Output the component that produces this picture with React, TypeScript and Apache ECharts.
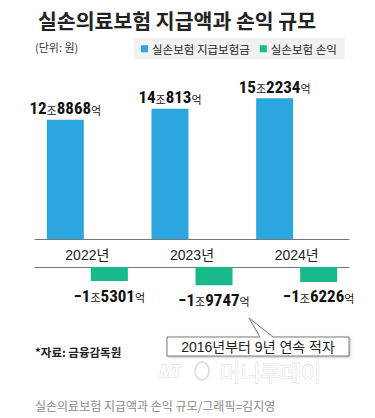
import React, { useEffect, useRef } from "react";
import * as echarts from "echarts";

const categories = ["2022년", "2023년", "2024년"];
const payouts = [12.8868, 14.0813, 15.2234]; // 조원
const profits = [-1.5301, -1.9747, -1.6226]; // 조원
const seriesNames = ["실손보험 지급보험금", "실손보험 손익"];

const BLUE = "#2ba6de";
const GREEN = "#18b98b";
const KR = "'Noto Sans CJK KR', 'Noto Sans', sans-serif";
const MIX = "'Liberation Sans', 'Noto Sans CJK KR', sans-serif";
const NUM = "'Liberation Sans Narrow', 'Roboto Condensed', 'Liberation Sans', 'Noto Sans CJK KR', sans-serif";

function fmt(p: any) {
  const val = Number(p.value);
  const v = Math.abs(val);
  const jo = Math.floor(v);
  const eok = Math.round((v - jo) * 10000);
  const sign = val < 0 ? "−" : "";
  return `{n|${sign}${jo}}{u|조}{n|${eok}}{u|억}`;
}

const rich = {
  n: { fontFamily: NUM, fontSize: 17, fontWeight: "bold", color: "#111" },
  u: { fontFamily: KR, fontSize: 11, color: "#111", padding: [3, 0, 0, 0] },
};

export default function App() {
  const ref = useRef<HTMLDivElement>(null);
  useEffect(() => {
    if (!ref.current) return;
    const chart = echarts.init(ref.current, null, { renderer: "svg" });
    const empty = categories.map(() => "-");
    chart.setOption({
      animation: false,
      backgroundColor: "#fff",
      title: {
        text: "실손의료보험 지급액과 손익 규모",
        left: 33,
        top: 5,
        textStyle: { fontFamily: KR, fontSize: 20.5, fontWeight: "bold", color: "#222" },
      },
      legend: {
        data: seriesNames,
        left: 134,
        top: 38,
        backgroundColor: "#f1f1f1",
        padding: [5, 8, 5, 7],
        itemWidth: 7,
        itemHeight: 7,
        itemGap: 10,
        icon: "rect",
        textStyle: { fontFamily: KR, fontSize: 11.5, color: "#222", padding: [0, 0, 0, -1] },
      },
      grid: [
        { left: 35, right: 26, top: 91, height: 148 },
        { left: 35, right: 26, top: 267, height: 18.46 },
      ],
      xAxis: [
        {
          type: "category",
          gridIndex: 0,
          data: categories,
          position: "bottom",
          axisLine: { lineStyle: { color: "#777", width: 1 } },
          axisTick: { inside: true, length: 4, lineStyle: { color: "#777" } },
          axisLabel: { fontFamily: MIX, fontSize: 14, color: "#222", margin: 9 },
        },
        {
          type: "category",
          gridIndex: 1,
          data: categories,
          position: "top",
          axisLine: { lineStyle: { color: "#777", width: 1 } },
          axisTick: { inside: true, length: 5, lineStyle: { color: "#777" } },
          axisLabel: { show: false },
        },
      ],
      yAxis: [
        { type: "value", gridIndex: 0, min: 0, max: 16, show: false },
        { type: "value", gridIndex: 1, min: -2, max: 0, show: false },
      ],
      series: [
        {
          name: seriesNames[0],
          type: "bar",
          xAxisIndex: 0,
          yAxisIndex: 0,
          data: payouts,
          barWidth: 37,
          barGap: "19%",
          itemStyle: { color: BLUE },
          label: { show: true, position: "top", distance: 3, formatter: fmt, rich },
        },
        {
          name: "_placeholder1",
          type: "bar",
          xAxisIndex: 0,
          yAxisIndex: 0,
          data: empty,
          barWidth: 37,
          barGap: "19%",
          itemStyle: { color: GREEN },
        },
        {
          name: "_placeholder2",
          type: "bar",
          xAxisIndex: 1,
          yAxisIndex: 1,
          data: empty,
          barWidth: 37,
          barGap: "19%",
          itemStyle: { color: BLUE },
        },
        {
          name: seriesNames[1],
          type: "bar",
          xAxisIndex: 1,
          yAxisIndex: 1,
          data: profits,
          barWidth: 37,
          barGap: "19%",
          itemStyle: { color: GREEN },
          label: { show: true, position: "bottom", distance: 6, formatter: fmt, rich },
        },
      ],
      graphic: [
        {
          type: "text",
          left: 35,
          top: 41,
          style: { text: "(단위: 원)", font: `11px ${KR}`, fill: "#333" },
        },
        {
          type: "polygon",
          shape: {
            points: [
              [167, 337], [260, 337], [249, 318], [273, 337],
              [349, 337], [349, 356], [167, 356],
            ],
          },
          style: {
            fill: "#fff",
            stroke: "#7a7a7a",
            lineWidth: 1,
            shadowBlur: 2,
            shadowColor: "rgba(0,0,0,0.25)",
            shadowOffsetX: 1,
            shadowOffsetY: 1,
          },
        },
        {
          type: "text",
          x: 258,
          y: 347,
          style: {
            text: "2016년부터 9년 연속 적자",
            font: `14px ${MIX}`,
            fill: "#222",
            align: "center",
            verticalAlign: "middle",
          },
        },
        {
          type: "text",
          x: 35,
          y: 352,
          style: {
            text: "*자료: 금융감독원",
            font: `bold 11.5px ${KR}`,
            fill: "#222",
            verticalAlign: "middle",
          },
        },
        {
          type: "text",
          x: 160,
          y: 371,
          style: {
            text: "MT",
            font: `italic bold 17px ${NUM}`,
            fill: "#fff",
            stroke: "#dadada",
            lineWidth: 1,
            verticalAlign: "middle",
          },
        },
        {
          type: "ellipse",
          shape: { cx: 202, cy: 371, rx: 7, ry: 9 },
          style: { fill: "none", stroke: "#e0e0e0", lineWidth: 2 },
        },
        {
          type: "text",
          x: 220,
          y: 371,
          style: {
            text: "머니투데이",
            font: `22px ${KR}`,
            fill: "#fff",
            stroke: "#dadada",
            lineWidth: 1,
            verticalAlign: "middle",
          },
        },
        {
          type: "text",
          x: 35,
          y: 405,
          style: {
            text: "실손의료보험 지급액과 손익 규모/그래픽=김지영",
            font: `12px ${KR}`,
            fill: "#8a8a8a",
            verticalAlign: "middle",
          },
        },
      ],
    });
    return () => chart.dispose();
  }, []);
  return (
    <div
      ref={ref}
      style={{ position: "absolute", left: 0, top: 0, width: 375, height: 418 }}
    />
  );
}
